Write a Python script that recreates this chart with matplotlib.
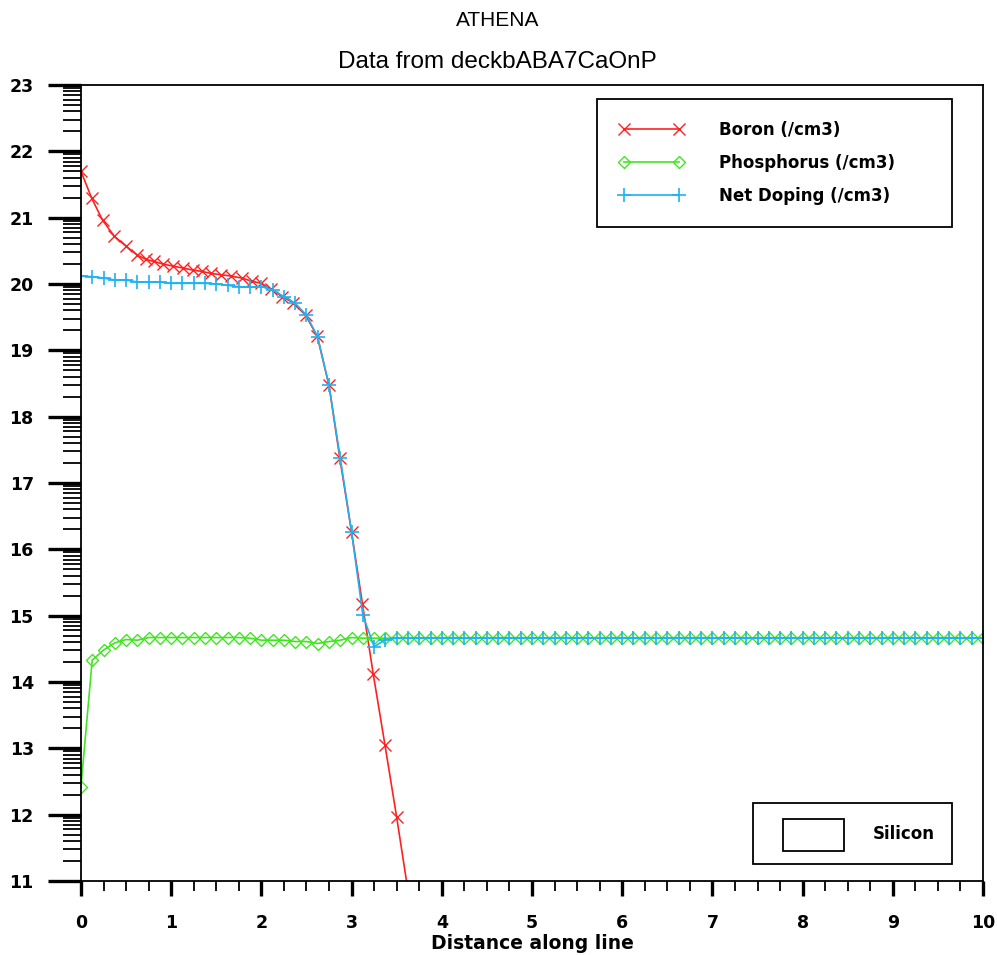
import matplotlib
matplotlib.use('Agg')
import matplotlib.pyplot as plt
import numpy as np
from matplotlib.ticker import FixedLocator
from matplotlib.patches import Rectangle

plt.rcParams['font.family'] = ['Liberation Sans', 'DejaVu Sans']

# Boron (/cm3), log10 concentration
boron_x = [0, 0.12, 0.24, 0.37, 0.5, 0.62, 0.72, 0.81, 0.91, 1.02, 1.13, 1.24,
           1.34, 1.44, 1.55, 1.66, 1.78, 1.9, 2.0, 2.11, 2.23, 2.35, 2.49, 2.62,
           2.75, 2.87, 3.0, 3.12, 3.24, 3.37, 3.5, 3.62]
boron_y = [21.7, 21.29, 20.96, 20.72, 20.57, 20.44, 20.37, 20.34, 20.30, 20.27,
           20.24, 20.21, 20.19, 20.16, 20.14, 20.12, 20.09, 20.04, 20.01, 19.92,
           19.81, 19.72, 19.53, 19.21, 18.47, 17.37, 16.26, 15.18, 14.12, 13.05,
           11.96, 10.9]

# shared grid for phosphorus and net doping
grid_x = [0, 0.125, 0.25, 0.375, 0.5, 0.625, 0.75, 0.875, 1.0, 1.125, 1.25,
          1.375, 1.5, 1.625, 1.75, 1.875, 2.0, 2.125, 2.25, 2.375, 2.5, 2.625,
          2.75, 2.875, 3.0, 3.125, 3.25, 3.375, 3.5, 3.625, 3.75, 3.875, 4.0,
          4.125, 4.25, 4.375, 4.5, 4.625, 4.75, 4.875, 5.0, 5.125, 5.25, 5.375,
          5.5, 5.625, 5.75, 5.875, 6.0, 6.125, 6.25, 6.375, 6.5, 6.625, 6.75,
          6.875, 7.0, 7.125, 7.25, 7.375, 7.5, 7.625, 7.75, 7.875, 8.0, 8.125,
          8.25, 8.375, 8.5, 8.625, 8.75, 8.875, 9.0, 9.125, 9.25, 9.375, 9.5,
          9.625, 9.75, 9.875, 10.0]

phos_y = [12.42, 14.33, 14.48, 14.59, 14.64, 14.63, 14.67, 14.67, 14.67, 14.67,
          14.67, 14.67, 14.67, 14.67, 14.67, 14.66, 14.63, 14.63, 14.63, 14.61,
          14.61, 14.58, 14.61, 14.63, 14.67, 14.66, 14.66, 14.66, 14.66, 14.66,
          14.66, 14.66, 14.66, 14.66, 14.66, 14.66, 14.66, 14.66, 14.66, 14.66,
          14.66, 14.66, 14.66, 14.66, 14.66, 14.66, 14.66, 14.66, 14.66, 14.66,
          14.66, 14.66, 14.66, 14.66, 14.66, 14.66, 14.66, 14.66, 14.66, 14.66,
          14.66, 14.66, 14.66, 14.66, 14.66, 14.66, 14.66, 14.66, 14.66, 14.66,
          14.66, 14.66, 14.66, 14.66, 14.66, 14.66, 14.66, 14.66, 14.66, 14.66,
          14.66]

net_y = [20.12, 20.11, 20.09, 20.06, 20.06, 20.03, 20.03, 20.03, 20.01, 20.01,
         20.01, 20.01, 20.0, 19.98, 19.96, 19.95, 19.96, 19.91, 19.81, 19.71,
         19.53, 19.2, 18.47, 17.37, 16.26, 15.01, 14.53, 14.64, 14.66, 14.66,
         14.66, 14.66, 14.66, 14.66, 14.66, 14.66, 14.66, 14.66, 14.66, 14.66,
         14.66, 14.66, 14.66, 14.66, 14.66, 14.66, 14.66, 14.66, 14.66, 14.66,
         14.66, 14.66, 14.66, 14.66, 14.66, 14.66, 14.66, 14.66, 14.66, 14.66,
         14.66, 14.66, 14.66, 14.66, 14.66, 14.66, 14.66, 14.66, 14.66, 14.66,
         14.66, 14.66, 14.66, 14.66, 14.66, 14.66, 14.66, 14.66, 14.66, 14.66,
         14.66]

red = '#ff2020'
green = '#3fe61f'
blue = '#1eb2f2'
bold_font = {'family': 'DejaVu Sans', 'weight': 'bold'}

fig = plt.figure(figsize=(9.97, 9.55), dpi=100)
ax = fig.add_axes([0.0812, 0.0775, 0.9048, 0.8335])

ax.plot(boron_x, boron_y, color=red, lw=1.2, marker='x', ms=8, mew=1.0,
        label='Boron (/cm3)')
ax.plot(grid_x, phos_y, color=green, lw=1.2, marker='D', ms=6.5, mew=1.0,
        mfc='none', label='Phosphorus (/cm3)')
ax.plot(grid_x, net_y, color=blue, lw=1.2, marker='+', ms=10, mew=1.2,
        label='Net Doping (/cm3)')

ax.set_xlim(0, 10)
ax.set_ylim(11, 23)

# axis ticks
ax.set_xticks(np.arange(0, 11, 1))
ax.xaxis.set_minor_locator(FixedLocator([i + f for i in range(10) for f in (0.25, 0.5, 0.75)]))
ax.set_yticks(np.arange(11, 24, 1))
ax.yaxis.set_minor_locator(FixedLocator([n + np.log10(k) for n in range(11, 23) for k in range(2, 10)]))

ax.tick_params(axis='y', which='major', direction='out', length=24, width=2.4,
               pad=10)
ax.tick_params(axis='y', which='minor', direction='out', length=13, width=1.3)
ax.tick_params(axis='x', which='major', direction='out', length=11, width=2.4,
               pad=13)
ax.tick_params(axis='x', which='minor', direction='out', length=7, width=1.3)
for lab in ax.get_xticklabels() + ax.get_yticklabels():
    lab.set_fontproperties(bold_font)
    lab.set_fontsize(12.5)

for sp in ax.spines.values():
    sp.set_linewidth(1.3)
    sp.set_color('black')

ax.set_xlabel('Distance along line', fontdict=bold_font, fontsize=13.5,
              labelpad=1.5)

fig.text(0.499, 0.979, 'ATHENA', ha='center', va='center', fontsize=15)
fig.text(0.499, 0.935, 'Data from deckbABA7CaOnP', ha='center', va='center',
         fontsize=17.5)

leg = ax.legend(loc='upper left', bbox_to_anchor=(0.572, 0.828, 0.394, 0.154),
                mode='expand', borderaxespad=0, numpoints=2,
                prop={'family': 'DejaVu Sans', 'weight': 'bold', 'size': 12},
                handlelength=3.9, handletextpad=2.1, labelspacing=0.9,
                borderpad=1.3, fancybox=False, framealpha=1,
                edgecolor='black')
leg.get_frame().set_linewidth(1.3)

# material box
ax.add_patch(Rectangle((0.745, 0.021), 0.221, 0.077, transform=ax.transAxes,
                       fill=False, ec='black', lw=1.3))
ax.add_patch(Rectangle((0.778, 0.038), 0.068, 0.040, transform=ax.transAxes,
                       fill=False, ec='black', lw=1.3))
ax.text(0.878, 0.0585, 'Silicon', transform=ax.transAxes, ha='left',
        va='center', fontdict=bold_font, fontsize=12)

fig.savefig('out.png', dpi=100)
